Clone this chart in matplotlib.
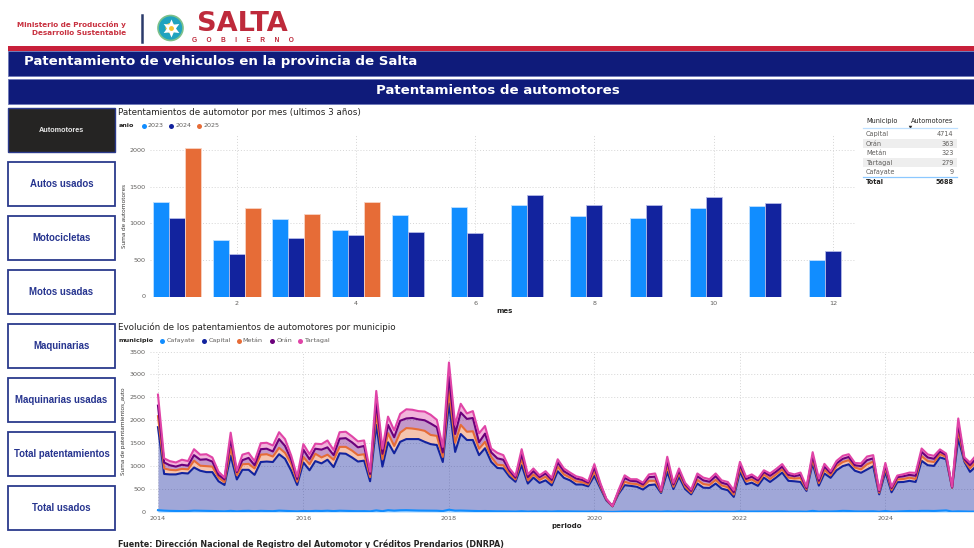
import numpy as np
import pandas as pd
import matplotlib
matplotlib.use("Agg")
import matplotlib.pyplot as plt
from matplotlib.patches import Rectangle, Circle
import matplotlib.dates as mdates

# ---------- data ----------
meses = list(range(1, 13))
anio_2023 = [1300, 780, 1060, 910, 1120, 1230, 1260, 1100, 1070, 1210, 1240, 500]
anio_2024 = [1070, 585, 800, 840, 880, 870, 1385, 1260, 1260, 1360, 1280, 625]
anio_2025 = [2030, 1210, 1130, 1300]

municipios = ["Capital", "Orán", "Metán", "Tartagal", "Cafayate"]
automotores = [4714, 363, 323, 279, 9]
total_auto = 5688

botones = ["Autos usados", "Motocicletas", "Motos usadas", "Maquinarias",
           "Maquinarias usadas", "Total patentamientos", "Total usados"]

periodo = pd.date_range("2014-01-01", periods=136, freq="MS")
# stacked levels (top edge of each band)
nivel_cafayate = [40, 30, 25, 22, 20, 22, 30, 28, 25, 22, 18, 15, 25, 15, 22, 25, 18, 25, 22, 18, 30, 25, 18, 14,
                  22, 18, 25, 22, 28, 20, 28, 25, 22, 18, 20, 14, 35, 18, 40, 30, 38, 40, 35, 32, 30, 28, 28, 20,
                  50, 30, 32, 28, 26, 20, 22, 18, 15, 15, 12, 10, 18, 10, 14, 12, 14, 10, 16, 14, 12, 10, 10, 9,
                  14, 8, 4, 2, 6, 10, 9, 9, 8, 10, 10, 7, 14, 8, 12, 8, 6, 10, 8, 8, 10, 8, 8, 6,
                  14, 10, 10, 9, 12, 10, 12, 14, 10, 10, 10, 7, 25, 9, 14, 12, 16, 25, 22, 14, 12, 15, 16, 7,
                  22, 7, 12, 15, 22, 18, 25, 25, 22, 28, 35, 10, 15, 12, 9, 10]
nivel_capital = [1850, 830, 820, 820, 850, 840, 970, 900, 870, 870, 670, 590,
                 1230, 710, 920, 920, 810, 1090, 1100, 1090, 1260, 1160, 900, 590,
                 1080, 910, 1110, 1060, 1140, 980, 1280, 1270, 1190, 1100, 1120, 670,
                 1900, 990, 1520, 1280, 1530, 1590, 1590, 1590, 1530, 1480, 1460, 1090,
                 2370, 1310, 1700, 1570, 1570, 1240, 1390, 1095, 960, 950, 770, 660,
                 1020, 620, 750, 635, 690, 580, 890, 745, 690, 600, 600, 560,
                 790, 510, 255, 125, 390, 585, 570, 550, 490, 585, 600, 415,
                 875, 500, 770, 500, 385, 620, 530, 525, 620, 510, 475, 330,
                 875, 605, 640, 570, 750, 655, 750, 860, 680, 670, 655, 460,
                 1060, 575, 840, 745, 910, 1000, 1040, 900, 855, 925, 1000, 385,
                 875, 430, 650, 655, 680, 655, 1115, 1020, 1005, 1190, 1150, 530,
                 1600, 1095, 875, 1000]
nivel_metan = [2090, 950, 920, 910, 940, 930, 1120, 1010, 1000, 990, 750, 650,
               1400, 800, 1040, 1050, 950, 1250, 1260, 1210, 1400, 1290, 1050, 660,
               1200, 1040, 1270, 1190, 1250, 1140, 1420, 1420, 1340, 1240, 1260, 760,
               2170, 1150, 1720, 1440, 1730, 1830, 1820, 1800, 1770, 1680, 1660, 1200,
               2640, 1510, 1900, 1750, 1760, 1380, 1530, 1200, 1030, 1020, 830, 710,
               1150, 690, 820, 700, 770, 640, 990, 820, 750, 670, 650, 600,
               880, 550, 270, 125, 420, 660, 620, 610, 550, 680, 680, 440,
               1000, 550, 840, 550, 420, 700, 610, 590, 700, 580, 540, 380,
               950, 670, 710, 630, 820, 720, 820, 930, 750, 730, 740, 490,
               1150, 630, 920, 800, 1000, 1090, 1130, 970, 930, 1040, 1100, 420,
               960, 480, 710, 720, 750, 720, 1220, 1110, 1090, 1260, 1200, 530,
               1780, 1120, 950, 1100]
nivel_oran = [2320, 1080, 1020, 990, 1030, 1010, 1240, 1140, 1150, 1100, 810, 710,
              1590, 870, 1130, 1180, 1020, 1370, 1380, 1320, 1590, 1440, 1140, 720,
              1360, 1150, 1380, 1360, 1410, 1240, 1600, 1610, 1520, 1410, 1440, 830,
              2400, 1270, 1900, 1630, 1990, 2040, 2050, 2020, 2000, 1930, 1850, 1300,
              2950, 1700, 2170, 2030, 2050, 1520, 1710, 1300, 1170, 1140, 900, 750,
              1260, 760, 890, 760, 840, 700, 1080, 890, 810, 730, 700, 640,
              970, 590, 280, 128, 450, 740, 680, 670, 600, 760, 770, 460,
              1110, 600, 900, 600, 460, 780, 690, 660, 780, 640, 600, 430,
              1030, 720, 770, 690, 870, 790, 880, 990, 810, 780, 810, 520,
              1230, 680, 990, 850, 1060, 1160, 1200, 1020, 1000, 1130, 1170, 450,
              1020, 520, 760, 780, 810, 790, 1310, 1190, 1160, 1320, 1240, 540,
              1920, 1150, 1020, 1170]
nivel_tartagal = [2560, 1170, 1110, 1080, 1140, 1110, 1370, 1250, 1260, 1190, 880, 750,
                  1730, 900, 1250, 1290, 1110, 1500, 1510, 1450, 1740, 1590, 1230, 770,
                  1480, 1260, 1490, 1480, 1560, 1350, 1740, 1750, 1650, 1540, 1560, 880,
                  2640, 1380, 2080, 1780, 2140, 2240, 2230, 2200, 2190, 2120, 2010, 1420,
                  3260, 1900, 2360, 2150, 2200, 1715, 1875, 1385, 1290, 1240, 950, 790,
                  1370, 820, 950, 800, 890, 745, 1150, 950, 860, 780, 745, 670,
                  1045, 620, 290, 130, 475, 800, 715, 715, 640, 820, 840, 475,
                  1205, 635, 950, 635, 490, 840, 750, 715, 840, 690, 655, 475,
                  1095, 765, 820, 730, 910, 840, 935, 1045, 855, 820, 860, 550,
                  1305, 730, 1050, 890, 1115, 1225, 1260, 1070, 1060, 1210, 1240, 475,
                  1070, 550, 795, 825, 860, 855, 1385, 1255, 1225, 1365, 1275, 550,
                  2040, 1190, 1080, 1240]

# ---------- style ----------
C_BLUE, C_NAVY, C_ORANGE, C_PURPLE, C_PINK = "#118DFF", "#12239E", "#E66C37", "#6B007B", "#E044A7"
BANNER = "#0F1B7A"
UI = ["DejaVu Sans"]
NARROW = ["Open Sans", "DejaVu Sans"]
TXT = "#605E5C"
W, H = 974, 548
plt.rcParams["font.family"] = UI

fig = plt.figure(figsize=(W / 100, H / 100), dpi=100, facecolor="white")
bg = fig.add_axes([0, 0, 1, 1], zorder=0)
bg.set_xlim(0, W)
bg.set_ylim(H, 0)
bg.axis("off")


def axes_px(x0, y0, x1, y1):
    return fig.add_axes([x0 / W, 1 - y1 / H, (x1 - x0) / W, (y1 - y0) / H], zorder=2, facecolor="none")


# ---------- header ----------
AR = "Liberation Sans"
bg.text(126, 24.5, "Ministerio de Producción y", ha="right", va="center", fontsize=5.2, fontweight="bold",
        color="#C8303F", family=UI)
bg.text(126, 33, "Desarrollo Sustentable", ha="right", va="center", fontsize=5.2, fontweight="bold",
        color="#C8303F", family=UI)
bg.plot([142, 142], [15, 42], color="#2B3A6B", lw=1.8)
bg.add_patch(Circle((170.5, 28), 12.5, fc="#1FA3BF", ec="#7CC08A", lw=1.2))
bg.add_patch(Circle((170.5, 28), 5, fc="#F4C430", ec="none"))
bg.plot([170.5], [28], marker=(6, 1, 0), ms=13, mfc="white", mec="none")
bg.plot([170.5], [28], marker="o", ms=3.5, mfc="#F4C430", mec="none")
bg.text(242.5, 24, "SALTA", ha="center", va="center", fontsize=19.5, fontweight="bold", color="#BE2A3B", family=UI)
bg.text(242.5, 40, "G     O     B     I     E     R     N     O", ha="center", va="center", fontsize=4.8,
        fontweight="bold", color="#BE2A3B", family=AR)

bg.add_patch(Rectangle((8, 46), W - 8, 5, fc="#C8203A", ec="none"))
bg.add_patch(Rectangle((8, 51), W - 8, 25, fc=BANNER, ec="#6E78B8", lw=0.6))
bg.add_patch(Rectangle((8, 78.5), W - 8, 25.5, fc=BANNER, ec="#6E78B8", lw=0.6))
bg.text(24, 61.5, "Patentamiento de vehiculos en la provincia de Salta", ha="left", va="center",
        fontsize=9.62, fontweight="bold", color="white", family=UI)
bg.text(497.5, 90, "Patentamientos de automotores", ha="center", va="center",
        fontsize=9.62, fontweight="bold", color="white", family=UI)

# ---------- buttons ----------
bg.add_patch(Rectangle((8, 108), 107, 44, fc="#252423", ec="#2B3A8C", lw=1))
bg.text(61.5, 130.5, "Automotores", ha="center", va="center", fontsize=5.2, fontweight="bold", color="#E8E8E8",
        family=AR)
for i, b in enumerate(botones):
    y = 162 + i * 54
    bg.add_patch(Rectangle((8, y), 107, 44, fc="white", ec="#2B3A8C", lw=1.3))
    bg.text(61.5, y + 22, b, ha="center", va="center", fontsize=6.9, fontweight="bold", color="#26348F", family=AR)


def titulo(y, s):
    bg.text(118.5, y, s, ha="left", va="center", fontsize=6.3, color="#252423", family=UI)


def leyenda(y, nombre, items):
    bg.text(118.5, y, nombre, ha="left", va="center", fontsize=4.6, fontweight="bold", color="#252423", family=UI)
    for x, lab, col in items:
        bg.plot([x], [y], "o", ms=3.6, color=col, mec="none")
        bg.text(x + 4.3, y, lab, ha="left", va="center", fontsize=4.6, color=TXT, family=UI)


def estilo(ax):
    ax.grid(True, ls=(0, (1, 2)), color="#D5D5D5", lw=0.7)
    ax.set_axisbelow(True)
    for s in ax.spines.values():
        s.set_visible(False)
    ax.tick_params(length=0, labelsize=4.6, labelcolor=TXT, pad=3)


# ---------- bar chart ----------
titulo(112.5, "Patentamientos de automotor por mes (ultimos 3 años)")
leyenda(125.5, "anio", [(143.5, "2023", C_BLUE), (171, "2024", C_NAVY), (199, "2025", C_ORANGE)])
ax1 = axes_px(150, 135, 855, 296.5)
estilo(ax1)
bw = 0.268
m = np.array(meses)
for off, vals, col, edge in [(-bw, anio_2023, C_BLUE, "#BFE0FF"), (0, anio_2024, C_NAVY, "#B5BBE6"),
                             (bw, anio_2025, C_ORANGE, "#F8D3C3")]:
    ax1.bar(m[:len(vals)] + off, vals, width=bw, color=col, edgecolor=edge, linewidth=0.6)
ax1.set_xlim(0.547, 12.37)
ax1.set_ylim(0, 2212)
ax1.set_xticks([2, 4, 6, 8, 10, 12])
ax1.set_yticks([0, 500, 1000, 1500, 2000])
bg.text(124.5, 216, "Suma de automotores", rotation=90, ha="center", va="center", fontsize=4.4, color="#252423",
        family=NARROW)
bg.text(505, 311, "mes", ha="center", va="center", fontsize=5, fontweight="bold", color="#252423", family=UI)

# ---------- table ----------
bg.text(866, 121, "Municipio", ha="left", va="center", fontsize=4.7, color="#252423", family=UI)
bg.text(953, 121, "Automotores", ha="right", va="center", fontsize=4.7, color="#252423", family=UI)
bg.plot([910], [126.5], marker="v", ms=2.5, color="#252423", mec="none")
bg.plot([863, 957], [128.3, 128.3], color="#BFE0FF", lw=0.9)
for i, (mun, val) in enumerate(zip(municipios, automotores)):
    y = 134.3 + i * 9.47
    if i % 2 == 1:
        bg.add_patch(Rectangle((863, y - 4.7), 94, 9.4, fc="#EEEEEE", ec="none"))
    bg.text(866, y, mun, ha="left", va="center", fontsize=4.7, color=TXT, family=UI)
    bg.text(953.5, y, str(val), ha="right", va="center", fontsize=4.7, color=TXT, family=UI)
bg.plot([863, 957], [176.5, 176.5], color="#8CC8FF", lw=0.9)
bg.text(866, 181.8, "Total", ha="left", va="center", fontsize=4.7, fontweight="bold", color="#252423", family=UI)
bg.text(953.5, 181.8, str(total_auto), ha="right", va="center", fontsize=4.7, fontweight="bold", color="#252423",
        family=UI)

# ---------- area chart ----------
titulo(327, "Evolución de los patentamientos de automotores por municipio")
leyenda(340.5, "municipio", [(162, "Cafayate", C_BLUE), (204.3, "Capital", C_NAVY),
                             (238.5, "Metán", C_ORANGE), (272, "Orán", C_PURPLE), (300, "Tartagal", C_PINK)])
ax2 = axes_px(150, 351.5, 974, 512)
estilo(ax2)
base = np.zeros(len(periodo))
for niv, col in [(nivel_cafayate, C_BLUE), (nivel_capital, C_NAVY), (nivel_metan, C_ORANGE),
                 (nivel_oran, C_PURPLE), (nivel_tartagal, C_PINK)]:
    niv = np.array(niv, float)
    ax2.fill_between(periodo, base, niv, color=col, alpha=0.4, lw=0)
    ax2.plot(periodo, niv, color=col, lw=1.5, solid_joinstyle="round")
    base = niv
d0 = pd.Timestamp("2014-01-01")
ax2.set_xlim(d0 - pd.Timedelta(days=40), d0 + pd.Timedelta(days=4097))
ax2.set_ylim(0, 3500)
ax2.set_yticks([0, 500, 1000, 1500, 2000, 2500, 3000, 3500])
ax2.set_xticks([pd.Timestamp(f"{a}-01-01") for a in range(2014, 2026, 2)])
ax2.xaxis.set_major_formatter(mdates.DateFormatter("%Y"))
bg.text(123.5, 431, "Suma de patentamientos_auto", rotation=90, ha="center", va="center", fontsize=4.4,
        color="#252423", family=NARROW)
bg.text(567, 526, "periodo", ha="center", va="center", fontsize=5, fontweight="bold", color="#252423", family=UI)

bg.text(118, 544, "Fuente: Dirección Nacional de Registro del Automotor y Créditos Prendarios (DNRPA)",
        ha="left", va="center", fontsize=5.75, fontweight="bold", color="#252423", family=UI)

fig.savefig("out.png", dpi=100)
